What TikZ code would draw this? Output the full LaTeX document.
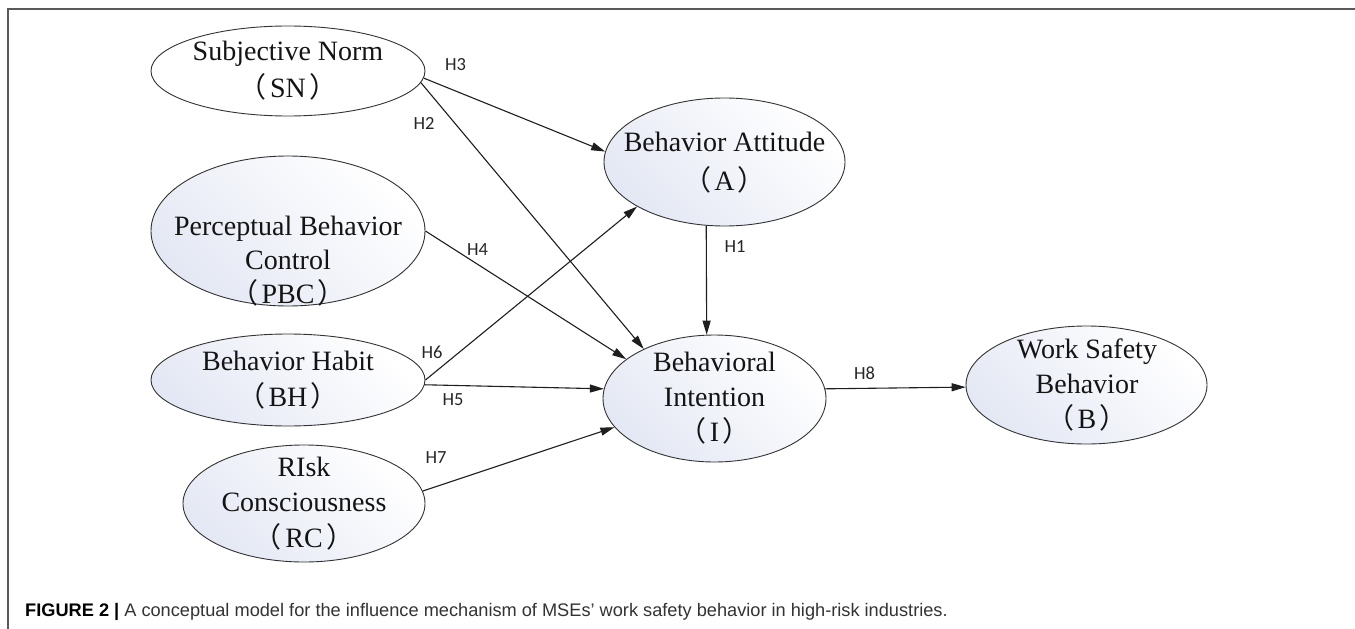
\documentclass[tikz,border=0pt]{standalone}
\usepackage{fontspec}
\setmainfont{Liberation Serif}
\newfontfamily\labfont{Carlito}
\newfontfamily\capfont{Liberation Sans}
\newfontfamily\cjkfont{Noto Sans CJK SC}
\usetikzlibrary{arrows.meta,shapes.geometric}
\definecolor{ellfill}{RGB}{228,232,244}
\definecolor{edgecol}{RGB}{30,30,30}
\newcommand\myLP{{\cjkfont （}\hspace{0.12em}}
\newcommand\myRP{\hspace{0.12em}{\cjkfont ）}}
\tikzset{
  ell/.style={ellipse, draw=black!80, line width=0.9pt, inner sep=0pt,
    top color=ellfill, bottom color=white, shading angle=135},
  plainell/.style={ellipse, draw=black!80, line width=0.9pt, inner sep=0pt, fill=white},
  txt/.style={align=center, inner sep=0pt, text=black!92},
  conn/.style={draw=edgecol, line width=1.1pt, -{Triangle[length=14pt,width=8pt]}},
  hlab/.style={font=\labfont\fontsize{18.5}{20}\selectfont, text=black!85, inner sep=0pt},
}
\begin{document}
\begin{tikzpicture}[x=1pt,y=-1pt]
\useasboundingbox (0,0) rectangle (1355,629);
\fill[white] (0,0) rectangle (1355,629);
\coordinate (fTL) at (8,9);
\coordinate (fTR) at (1355,9);
\coordinate (fBL) at (8,629);
\draw[black!65, line width=1.4pt] (fTR) -- (fTL) -- (fBL);

% ellipses
\node[plainell, minimum width=274pt, minimum height=90pt]  (SN)  at (288,71) {};
\node[ell, minimum width=274pt, minimum height=150pt]      (PBC) at (288,231) {};
\node[ell, minimum width=274pt, minimum height=92pt]       (BH)  at (288,380) {};
\node[ell, minimum width=242pt, minimum height=117pt]      (RC)  at (304,503.5) {};
\node[ell, minimum width=241pt, minimum height=128pt]      (BA)  at (724.5,162) {};
\node[ell, minimum width=223pt, minimum height=127pt]      (BI)  at (714.5,398.5) {};
\node[ell, minimum width=241pt, minimum height=118pt]      (WSB) at (1086.5,385) {};

% texts
\node[txt, font=\fontsize{28}{37}\selectfont] (tSN) at (288,71) {Subjective Norm\\\myLP SN\myRP};
\node[txt, font=\fontsize{28}{34}\selectfont] (tPBC) at (288,261) {Perceptual Behavior\\Control\\\myLP PBC\myRP};
\node[txt, font=\fontsize{28}{36}\selectfont] (tBH) at (288,380) {Behavior Habit\\\myLP BH\myRP};
\node[txt, font=\fontsize{28}{35.5}\selectfont] (tRC) at (304,503.5) {RIsk\\Consciousness\\\myLP RC\myRP};
\node[txt, font=\fontsize{28}{39}\selectfont] (tBA) at (724.5,162.5) {Behavior Attitude\\\myLP A\myRP};
\node[txt, font=\fontsize{28}{35}\selectfont] (tBI) at (714.5,398) {Behavioral\\Intention\\\myLP I\myRP};
\node[txt, font=\fontsize{28}{35}\selectfont] (tWSB) at (1087,385) {Work Safety\\Behavior\\\myLP B\myRP};

% connectors
\draw[conn] (SN.-3) -- (BA.175);
\draw[conn] (SN.-5) -- (BI.145);
\draw[conn] (PBC.0) -- (BI.156);
\draw[conn] (BH.0) -- (BA.207);
\draw[conn] (BH.-2) -- (BI.175);
\draw[conn] (RC.6) -- (BI.196);
\draw[conn] (BA.254) -- (BI.97.5);
\draw[conn] (BI.5) -- (WSB.181);

% labels
\node[hlab] (h3) at (455.5,65) {H3};
\node[hlab] (h2) at (424,123) {H2};
\node[hlab] (h4) at (477.5,250) {H4};
\node[hlab] (h1) at (735,247) {H1};
\node[hlab] (h6) at (432,352) {H6};
\node[hlab] (h5) at (453,400) {H5};
\node[hlab] (h7) at (436,458) {H7};
\node[hlab] (h8) at (864.5,373) {H8};

% caption
\node[anchor=base west, inner sep=0pt, font=\capfont\fontsize{18.2}{20}\selectfont, text=black!80] (cap) at (25,616.5)
  {{\color{black}\bfseries FIGURE 2 |} A conceptual model for the influence mechanism of MSEs’ work safety behavior in high-risk industries.};
\end{tikzpicture}
\end{document}
